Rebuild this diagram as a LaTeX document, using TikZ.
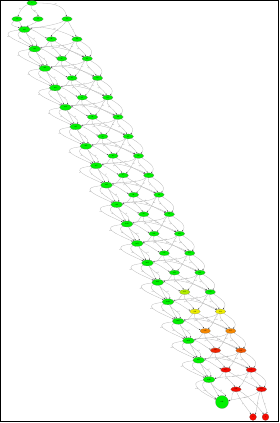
\documentclass[tikz,border=0pt]{standalone}
\usepackage{fontspec}
\setmainfont{Liberation Serif}
\usetikzlibrary{arrows.meta,shapes.geometric}
\definecolor{ygA}{RGB}{175,235,0}
\definecolor{yel}{RGB}{235,235,0}
\definecolor{org}{RGB}{245,135,0}
\definecolor{redA}{RGB}{240,35,0}
\definecolor{orgred}{RGB}{240,85,0}
\definecolor{redB}{RGB}{245,10,0}
\definecolor{gr}{RGB}{0,240,0}
\tikzset{
  st/.style={ellipse, draw=black!55, line width=0.12pt, fill=gr, minimum width=10.5pt,
    minimum height=5pt, inner sep=0pt, font=\fontsize{1.8}{2.2}\selectfont},
  mainst/.style={st, minimum width=12pt, minimum height=6pt},
  circst/.style={circle, draw=black!55, line width=0.12pt, inner sep=0pt,
    font=\fontsize{1.8}{2.2}\selectfont},
  ed/.style={draw=black!28, line width=0.3pt,
    -{Stealth[length=1.5pt,width=1.1pt,black!75]}},
  lab/.style={font=\fontsize{1.8}{2.2}\selectfont, text=black!50, inner sep=0.2pt},
}
\begin{document}
\begin{tikzpicture}[x=1pt,y=1pt]
\useasboundingbox (0,0) rectangle (280,-423);
\draw[line width=1.4pt] (0.7,-0.7) rectangle (278.6,-421.6);
% top nodes
\node[st] (T) at (32,-3) {s};
\node[st] (R1) at (17,-19) {r1};
\node[st] (R2) at (38,-19) {r2};
\node[st] (R3) at (67,-19) {r3};
% chain nodes
\foreach \i/\ca/\cb in {0/gr/gr,1/gr/gr,2/gr/gr,3/gr/gr,4/gr/gr,5/gr/gr,6/gr/gr,
  7/gr/gr,8/gr/gr,9/gr/gr,10/gr/gr,11/gr/gr,12/gr/gr,13/ygA/gr,14/yel/yel,
  15/org/org,16/redA/orgred,17/redB/redB,18/redB/redB}{
  \pgfmathsetmacro\mx{24.5+10.25*\i}
  \pgfmathsetmacro\my{-(29.5+19.45*\i)}
  \node[mainst] (m\i) at (\mx,\my) {m\i};
  \node[st, fill=\ca] (a\i) at (\mx+27,\my-9.7) {a\i};
  \node[st, fill=\cb] (b\i) at (\mx+52.5,\my-9.7) {b\i};
}
% final nodes
\node[circst, fill=gr, minimum size=13pt] (F) at (222,-402) {end};
\node[circst, fill=redB, minimum size=7pt] (E1) at (253,-417) {x};
\node[circst, fill=redB, minimum size=7pt] (E2) at (265.5,-417) {y};
% top edges
\draw[ed] (T) to[out=200,in=70] node[lab,left]{go} (R1);
\draw[ed] (T) to[out=250,in=90] node[lab,right]{go} (R2);
\draw[ed] (T) to[out=0,in=100] node[lab,above]{go} (R3);
\draw[ed] (R1) .. controls +(-8,-6) and +(-12,4) .. node[lab,left]{t} (m0);
\draw[ed] (R1) .. controls +(4,-4) and +(-4,4) .. (m0);
\draw[ed] (R2) .. controls +(-2,-4) and +(4,4) .. node[lab,right]{t} (m0);
\draw[ed] (R3) .. controls +(-10,-6) and +(12,2) .. (m0);
\draw[ed] (R3) .. controls +(-4,-8) and +(0,6) .. node[lab,right]{t} (a0);
\draw[ed] (R3) .. controls +(4,-8) and +(-2,6) .. node[lab,right]{t} (b0);
% chain edges
\foreach \i in {0,...,17}{
  \pgfmathtruncatemacro\j{\i+1}
  \draw[ed] (m\i) -- (m\j);
  \draw[ed] (m\i) .. controls +(-12,-6) and +(-8,7) .. node[lab,left]{t\i} (m\j);
  \draw[ed] (m\i) .. controls +(-28,-3) and +(-22,10) .. node[lab,left]{u\i} (m\j);
  \draw[ed] (m\i) .. controls +(4,-8) and +(4,8) .. node[lab,right]{v\i} (m\j);
  \draw[ed] (m\i) .. controls +(10,0) and +(-8,2) .. (a\i);
  \draw[ed] (m\i) .. controls +(20,5) and +(-10,6) .. node[lab,above]{w\i} (b\i);
  \draw[ed] (a\i) .. controls +(-6,-6) and +(12,2) .. (m\j);
  \draw[ed] (b\i) .. controls +(-10,-8) and +(18,4) .. node[lab,below]{z\i} (m\j);
  \draw[ed] (a\i) .. controls +(-2,-8) and +(-4,8) .. node[lab,left]{p\i} (a\j);
  \draw[ed] (b\i) .. controls +(-2,-8) and +(-4,8) .. node[lab,left]{q\i} (b\j);
  \draw[ed] (b\i) .. controls +(10,-6) and +(8,8) .. (b\j);
  \draw[ed] (a\i) .. controls +(10,-6) and +(-14,6) .. node[lab,above,pos=0.35]{r\i} (b\j);
  \draw[ed] (b\i) .. controls +(-6,-6) and +(8,6) .. node[lab,right,pos=0.4]{k\i} (a\j);
}
% final edges
\draw[ed] (m18) -- (F);
\draw[ed] (m18) .. controls +(-12,-6) and +(-10,6) .. node[lab,left]{t18} (F);
\draw[ed] (m18) .. controls +(-24,-3) and +(-18,8) .. node[lab,left]{u18} (F);
\draw[ed] (m18) .. controls +(4,-8) and +(4,8) .. node[lab,right]{v18} (F);
\draw[ed] (a18) .. controls +(-6,-6) and +(12,2) .. (F);
\draw[ed] (b18) .. controls +(-10,-8) and +(18,4) .. node[lab,below]{z18} (F);
\draw[ed] (a18) .. controls +(2,-8) and +(-4,6) .. node[lab,left]{p} (E1);
\draw[ed] (a18) .. controls +(12,-6) and +(-4,6) .. node[lab,above]{r} (E2);
\draw[ed] (b18) .. controls +(-4,-8) and +(4,6) .. node[lab,right]{k} (E1);
\draw[ed] (b18) .. controls +(0,-8) and +(2,6) .. node[lab,right]{q} (E2);
\end{tikzpicture}
\end{document}
